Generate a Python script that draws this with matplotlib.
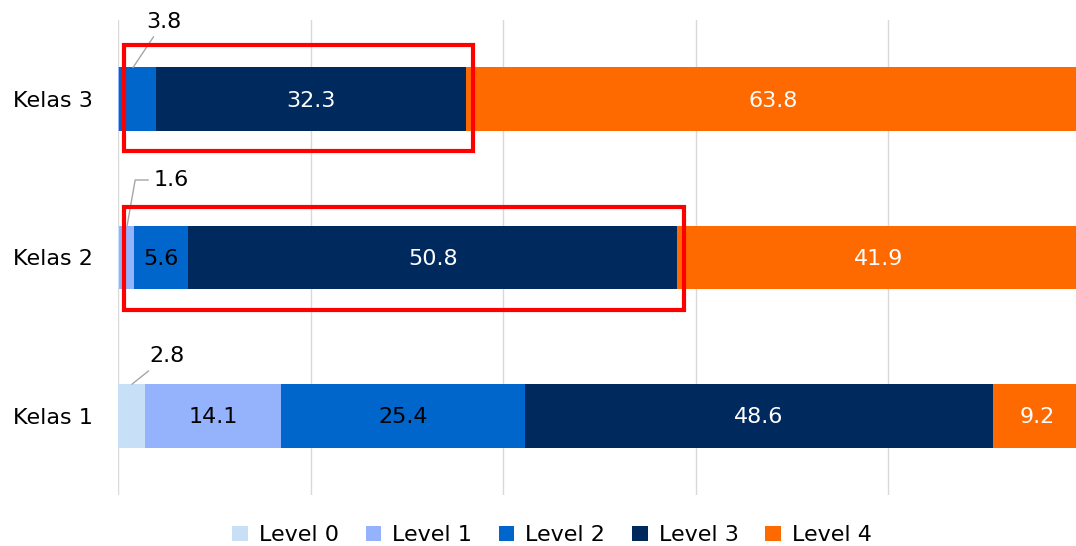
import matplotlib.pyplot as plt
from matplotlib.patches import Rectangle

plt.rcParams['font.family'] = ['DejaVu Sans']

# data
classes = ['Kelas 1', 'Kelas 2', 'Kelas 3']
levels = ['Level 0', 'Level 1', 'Level 2', 'Level 3', 'Level 4']
level0 = [2.8, 0.1, 0.0]
level1 = [14.1, 1.6, 0.1]
level2 = [25.4, 5.6, 3.8]
level3 = [48.6, 50.8, 32.3]
level4 = [9.2, 41.9, 63.8]
colors = ['#c7e0f8', '#94b3fc', '#0066cc', '#002a5e', '#ff6a00']
text_colors = ['black', 'black', 'black', 'white', 'white']

series = [level0, level1, level2, level3, level4]
FS = 16

fig = plt.figure(figsize=(10.76, 5.46), dpi=100)
ax = fig.add_axes([0.1097, 0.0934, 0.8945, 0.870])

y = list(range(len(classes)))
left = [0.0] * len(classes)
bar_h = 0.4
for i, vals in enumerate(series):
    ax.barh(y, vals, left=left, height=bar_h, color=colors[i], label=levels[i], zorder=2)
    for j, v in enumerate(vals):
        if v >= 5:
            ax.text(left[j] + v / 2, y[j] - 0.01, f'{v:.1f}', ha='center', va='center',
                    color=text_colors[i], fontsize=FS, zorder=3)
    left = [a + b for a, b in zip(left, vals)]

# callouts for the thin segments
def callout(val, x, yy, dx, dy, conn='arc3'):
    ax.annotate(f'{val:.1f}', xy=(x, yy + bar_h / 2), xytext=(dx, dy),
                textcoords='offset points', ha='center', va='center', fontsize=FS,
                arrowprops=dict(arrowstyle='-', color='#a6a6a6', lw=1,
                                shrinkA=2, shrinkB=0, connectionstyle=conn),
                zorder=4)

callout(level0[0], 1.45, 0, 25, 20)
callout(level1[1], 0.94, 1, 32, 33, conn='angle,angleA=0,angleB=80,rad=0')
callout(level2[2], 1.56, 2, 22, 33)

# red highlight boxes around levels 0-3 for Kelas 2 and Kelas 3
for j, pad_top in [(1, 0.12), (2, 0.14)]:
    end = level0[j] + level1[j] + level2[j] + level3[j]
    ax.add_patch(Rectangle((0.6, y[j] - 0.33), end + 0.7 - 0.6, 0.33 + 0.2 + pad_top,
                           fill=False, edgecolor='#ff0000', lw=3, zorder=5, clip_on=False))

ax.set_xlim(0, 100)
ax.set_ylim(-0.5, 2.5)
ax.set_xticks([0, 20, 40, 60, 80, 100])
ax.set_xticklabels([])
ax.set_yticks(y)
ax.set_yticklabels(classes, fontsize=FS)
ax.tick_params(axis='both', length=0)
ax.tick_params(axis='y', pad=18)
ax.grid(axis='x', color='#d9d9d9', lw=1, zorder=0)
for s in ax.spines.values():
    s.set_visible(False)

fig.legend(loc='lower center', bbox_to_anchor=(0.513, -0.035), ncol=5, frameon=False,
           fontsize=FS, handlelength=0.7, handleheight=0.7, handletextpad=0.5,
           columnspacing=1.2)

fig.savefig('out.png', dpi=100)
